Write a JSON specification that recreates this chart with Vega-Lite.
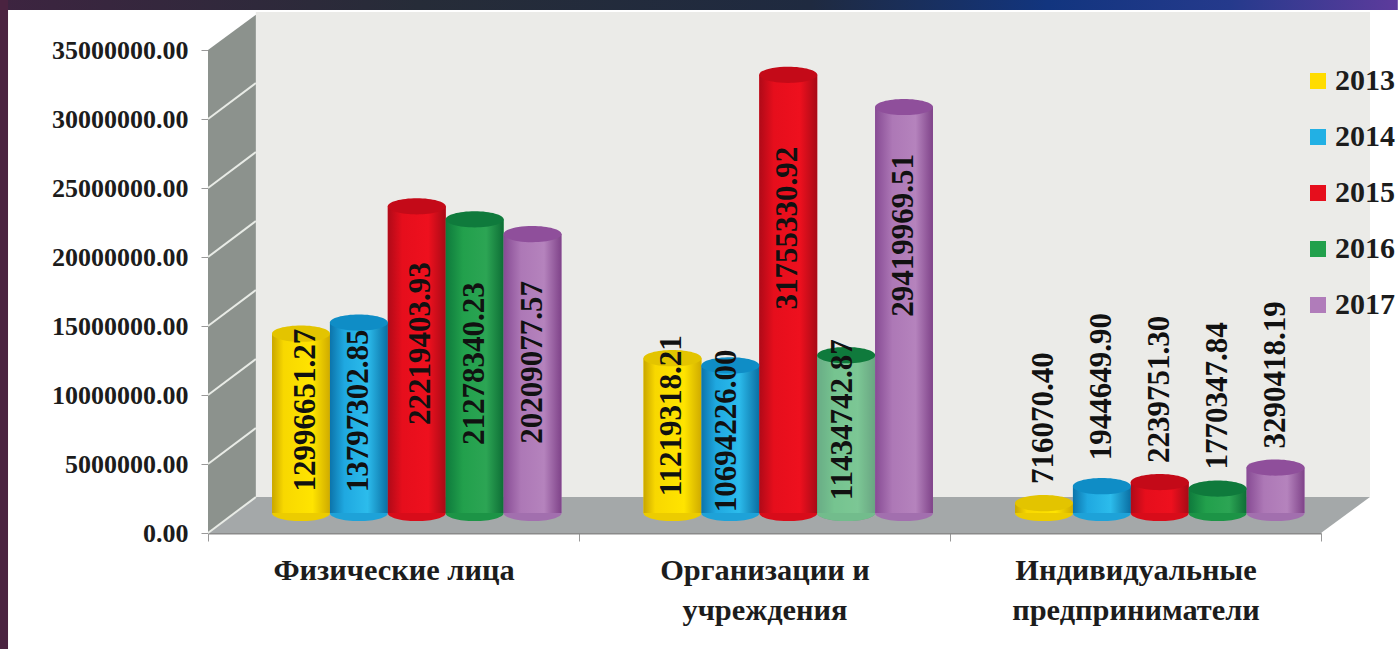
{
"$schema":"https://vega.github.io/schema/vega-lite/v6.json",
"autosize":{"type":"none"},
"padding":{"left":208,"top":50,"right":77,"bottom":116},
"width":1113,"height":483,
"background":"#ffffff",
"config":{"view":{"stroke":null}},
"datasets":{
"rows":[
{"category":"Физические лица","year":"2013","value":12996651.27},
{"category":"Физические лица","year":"2014","value":13797302.85},
{"category":"Физические лица","year":"2015","value":22219403.93},
{"category":"Физические лица","year":"2016","value":21278340.23},
{"category":"Физические лица","year":"2017","value":20209077.57},
{"category":"Организации и учреждения","year":"2013","value":11219318.21},
{"category":"Организации и учреждения","year":"2014","value":10694226.00},
{"category":"Организации и учреждения","year":"2015","value":31755330.92},
{"category":"Организации и учреждения","year":"2016","value":11434742.87},
{"category":"Организации и учреждения","year":"2017","value":29419969.51},
{"category":"Индивидуальные предприниматели","year":"2013","value":716070.40},
{"category":"Индивидуальные предприниматели","year":"2014","value":1944649.90},
{"category":"Индивидуальные предприниматели","year":"2015","value":2239751.30},
{"category":"Индивидуальные предприниматели","year":"2016","value":1770347.84},
{"category":"Индивидуальные предприниматели","year":"2017","value":3290418.19}
],
"side":[{"depth":0,"top":35000000,"bottom":0},{"depth":0.129,"top":37550000,"bottom":2609000}],
"back":[{"depth":0.129,"top":37750000,"bottom":2609000},{"depth":3.132,"top":37750000,"bottom":2609000}],
"floor":[{"depth":0,"top":0,"bottom":0},{"depth":0.129,"top":2609000,"bottom":0},{"depth":3,"top":2609000,"bottom":0},{"depth":3.132,"top":2609000,"bottom":2609000}],
"lines":[
{"level":0,"depth":0,"v":0},{"level":0,"depth":0.129,"v":2609000},
{"level":5,"depth":0,"v":5000000},{"level":5,"depth":0.129,"v":7609000},
{"level":10,"depth":0,"v":10000000},{"level":10,"depth":0.129,"v":12609000},
{"level":15,"depth":0,"v":15000000},{"level":15,"depth":0.129,"v":17609000},
{"level":20,"depth":0,"v":20000000},{"level":20,"depth":0.129,"v":22609000},
{"level":25,"depth":0,"v":25000000},{"level":25,"depth":0.129,"v":27609000},
{"level":30,"depth":0,"v":30000000},{"level":30,"depth":0.129,"v":32609000}
],
"frameTop":[{"depth":-0.561,"top":38620000,"bottom":37900000},{"depth":3.207,"top":38620000,"bottom":37900000}],
"frameLeft":[{"depth":-0.561,"top":38620000,"bottom":-8400000},{"depth":-0.539,"top":38620000,"bottom":-8400000}]
},
"resolve":{"scale":{"x":"independent","y":"independent"}},
"layer":[
{
"encoding":{
"x":{"field":"depth","type":"quantitative","axis":null,"scale":{"domain":[0,3],"nice":false,"zero":false}},
"y":{"field":"top","type":"quantitative","title":null,"scale":{"domain":[0,35000000],"nice":false,"zero":false},
"axis":{"values":[0,5000000,10000000,15000000,20000000,25000000,30000000,35000000],"format":".2f","grid":false,"domain":false,"tickColor":"#999999","tickSize":7,"labelPadding":13,"labelFont":"Liberation Serif","labelFontWeight":"bold","labelFontSize":26,"labelColor":"#1c1c1c","labelLimit":300}},
"y2":{"field":"bottom"}
},
"layer":[
{"data":{"name":"back"},"mark":{"type":"area","color":"#ebebe8"}},
{"data":{"name":"side"},"mark":{"type":"area","color":"#8c928d"}},
{"data":{"name":"floor"},"mark":{"type":"area","color":"#a4a8a9"}},
{"data":{"name":"lines"},"mark":{"type":"line","color":"#e8ebe6","strokeWidth":2},"encoding":{"y":{"field":"v","type":"quantitative"},"y2":null,"detail":{"field":"level"}}},
{"data":{"name":"frameTop"},"mark":{"type":"area","color":{"x1":0,"y1":0,"x2":1,"y2":0,"gradient":"linear","stops":[{"offset":0,"color":"#3d2440"},{"offset":0.3,"color":"#262c38"},{"offset":0.58,"color":"#1f2a40"},{"offset":0.75,"color":"#12357f"},{"offset":0.88,"color":"#253a8c"},{"offset":1,"color":"#5d3b9c"}]}}},
{"data":{"name":"frameLeft"},"mark":{"type":"area","color":"#4a2340"}}
]
},
{
"data":{"name":"rows"},
"mark":{"type":"bar","opacity":0},
"encoding":{
"x":{"field":"category","type":"nominal","sort":null,"title":null,"scale":{"paddingInner":0,"paddingOuter":0},
"axis":{"labelAngle":0,"tickBand":"extent","tickColor":"#999999","tickSize":8,"domainColor":"#8a8a8a","domainWidth":2,"labelPadding":14,"labelFont":"Liberation Serif","labelFontWeight":"bold","labelFontSize":30.4,"labelColor":"#1c1c1c","labelLimit":500,"labelLineHeight":40,"labelBaseline":"top",
"labelExpr":"datum.label == 'Организации и учреждения' ? ['Организации и','учреждения'] : datum.label == 'Индивидуальные предприниматели' ? ['Индивидуальные','предприниматели'] : datum.label"}}
}
},
{
"data":{"name":"rows"},
"resolve":{"scale":{"color":"independent"}},
"encoding":{
"x":{"field":"category","type":"nominal","sort":null,"axis":null,"scale":{"range":[23,1137.5],"paddingInner":0.221,"paddingOuter":0.1105}},
"xOffset":{"field":"year","type":"nominal","scale":{"paddingInner":0,"paddingOuter":0}},
"y":{"field":"value","type":"quantitative","axis":null,"stack":null,"scale":{"domain":[-1449275,33550725],"nice":false,"zero":false}}
},
"layer":[
{"mark":{"type":"point","filled":true,"opacity":1,"size":3364,"shape":"M-1,0 A1,0.28 0 1,1 1,0 A1,0.28 0 1,1 -1,0 Z"},
"encoding":{"y":{"datum":0,"type":"quantitative"},"color":{"field":"year","type":"nominal","legend":null,"scale":{"range":["#eccc00","#1ea2d8","#d80c1a","#1c9446","#a26fae"]}}}},
{"transform":[{"filter":{"field":"value","equal":11434742.87}}],"mark":{"type":"point","filled":true,"opacity":0.38,"fill":"#ffffff","size":3364,"shape":"M-1,0 A1,0.28 0 1,1 1,0 A1,0.28 0 1,1 -1,0 Z"},"encoding":{"y":{"datum":0,"type":"quantitative"}}},
{"mark":{"type":"bar"},
"encoding":{"color":{"field":"year","type":"nominal","title":null,
"scale":{"range":["#ffdc00","#22b0e4","#e60e1c","#22a04c","#b07cba"]},
"legend":{"orient":"none","legendX":1095,"legendY":16,"symbolType":"square","symbolSize":256,"symbolStrokeWidth":1,"labelFont":"Liberation Serif","labelFontWeight":"bold","labelFontSize":30,"labelColor":"#1c1c1c","labelOffset":2,"rowPadding":26,"labelLimit":100,"padding":0}}}},
{"transform":[{"filter":{"field":"year","equal":"2013"}}],"mark":{"type":"bar","color":{"x1":0,"y1":0,"x2":1,"y2":0,"gradient":"linear","stops":[{"offset":0,"color":"#c9a600"},{"offset":0.2,"color":"#f8d800"},{"offset":0.7,"color":"#ffe400"},{"offset":1,"color":"#cfab00"}]}}},
{"transform":[{"filter":{"field":"year","equal":"2014"}}],"mark":{"type":"bar","color":{"x1":0,"y1":0,"x2":1,"y2":0,"gradient":"linear","stops":[{"offset":0,"color":"#0c74ab"},{"offset":0.25,"color":"#1fa8e0"},{"offset":0.65,"color":"#2cbcec"},{"offset":1,"color":"#0a6fa3"}]}}},
{"transform":[{"filter":{"field":"year","equal":"2015"}}],"mark":{"type":"bar","color":{"x1":0,"y1":0,"x2":1,"y2":0,"gradient":"linear","stops":[{"offset":0,"color":"#b00a18"},{"offset":0.25,"color":"#e60e1c"},{"offset":0.7,"color":"#ee101e"},{"offset":1,"color":"#a80a16"}]}}},
{"transform":[{"filter":{"field":"year","equal":"2016"}}],"mark":{"type":"bar","color":{"x1":0,"y1":0,"x2":1,"y2":0,"gradient":"linear","stops":[{"offset":0,"color":"#0e7a3c"},{"offset":0.3,"color":"#22a04c"},{"offset":0.7,"color":"#2ca554"},{"offset":1,"color":"#0e6e36"}]}}},
{"transform":[{"filter":{"field":"year","equal":"2017"}}],"mark":{"type":"bar","color":{"x1":0,"y1":0,"x2":1,"y2":0,"gradient":"linear","stops":[{"offset":0,"color":"#874b94"},{"offset":0.3,"color":"#ad78b6"},{"offset":0.7,"color":"#b583bd"},{"offset":1,"color":"#7f4389"}]}}},
{"transform":[{"filter":{"field":"value","equal":11434742.87}}],"mark":{"type":"bar","fill":"#ffffff","opacity":0.38}},
{"mark":{"type":"point","filled":true,"opacity":1,"size":3364,"shape":"M-1,0 A1,0.28 0 1,1 1,0 A1,0.28 0 1,1 -1,0 Z"},
"encoding":{"color":{"field":"year","type":"nominal","legend":null,"scale":{"range":["#e3c400","#0f8dc6","#c40a18","#0f7a3c","#8f4f9b"]}}}},
{"transform":[{"filter":{"field":"value","oneOf":[12996651.27]}}],"mark":{"type":"text","angle":270,"align":"right","baseline":"middle","font":"Liberation Serif","fontWeight":"bold","fontSize":31,"color":"#111111","dx":5,"dy":5},"encoding":{"text":{"field":"value","type":"quantitative","format":".2f"}}},
{"transform":[{"filter":{"field":"value","oneOf":[13797302.85]}}],"mark":{"type":"text","angle":270,"align":"right","baseline":"middle","font":"Liberation Serif","fontWeight":"bold","fontSize":31,"color":"#111111","dx":-7},"encoding":{"text":{"field":"value","type":"quantitative","format":".2f"}}},
{"transform":[{"filter":{"field":"value","oneOf":[22219403.93]}}],"mark":{"type":"text","angle":270,"align":"right","baseline":"middle","font":"Liberation Serif","fontWeight":"bold","fontSize":31,"color":"#111111","dx":-56,"dy":4},"encoding":{"text":{"field":"value","type":"quantitative","format":".2f"}}},
{"transform":[{"filter":{"field":"value","oneOf":[21278340.23]}}],"mark":{"type":"text","angle":270,"align":"right","baseline":"middle","font":"Liberation Serif","fontWeight":"bold","fontSize":31,"color":"#111111","dx":-63},"encoding":{"text":{"field":"value","type":"quantitative","format":".2f"}}},
{"transform":[{"filter":{"field":"value","oneOf":[20209077.57,29419969.51]}}],"mark":{"type":"text","angle":270,"align":"right","baseline":"middle","font":"Liberation Serif","fontWeight":"bold","fontSize":31,"color":"#111111","dx":-47},"encoding":{"text":{"field":"value","type":"quantitative","format":".2f"}}},
{"transform":[{"filter":{"field":"value","oneOf":[11219318.21]}}],"mark":{"type":"text","angle":270,"align":"right","baseline":"middle","font":"Liberation Serif","fontWeight":"bold","fontSize":31,"color":"#111111","dx":23},"encoding":{"text":{"field":"value","type":"quantitative","format":".2f"}}},
{"transform":[{"filter":{"field":"value","oneOf":[10694226.00,11434742.87]}}],"mark":{"type":"text","angle":270,"align":"right","baseline":"middle","font":"Liberation Serif","fontWeight":"bold","fontSize":31,"color":"#111111","dx":16,"dy":-3},"encoding":{"text":{"field":"value","type":"quantitative","format":".2f"}}},
{"transform":[{"filter":{"field":"value","oneOf":[31755330.92]}}],"mark":{"type":"text","angle":270,"align":"right","baseline":"middle","font":"Liberation Serif","fontWeight":"bold","fontSize":31,"color":"#111111","dx":-72},"encoding":{"text":{"field":"value","type":"quantitative","format":".2f"}}},
{"transform":[{"filter":{"field":"value","oneOf":[716070.40,2239751.30,1770347.84,3290418.19]}}],"mark":{"type":"text","angle":270,"align":"left","baseline":"middle","font":"Liberation Serif","fontWeight":"bold","fontSize":31,"color":"#111111","dx":19},"encoding":{"text":{"field":"value","type":"quantitative","format":".2f"}}},
{"transform":[{"filter":{"field":"value","oneOf":[1944649.90]}}],"mark":{"type":"text","angle":270,"align":"left","baseline":"middle","font":"Liberation Serif","fontWeight":"bold","fontSize":31,"color":"#111111","dx":26},"encoding":{"text":{"field":"value","type":"quantitative","format":".2f"}}}
]
}
]
}
